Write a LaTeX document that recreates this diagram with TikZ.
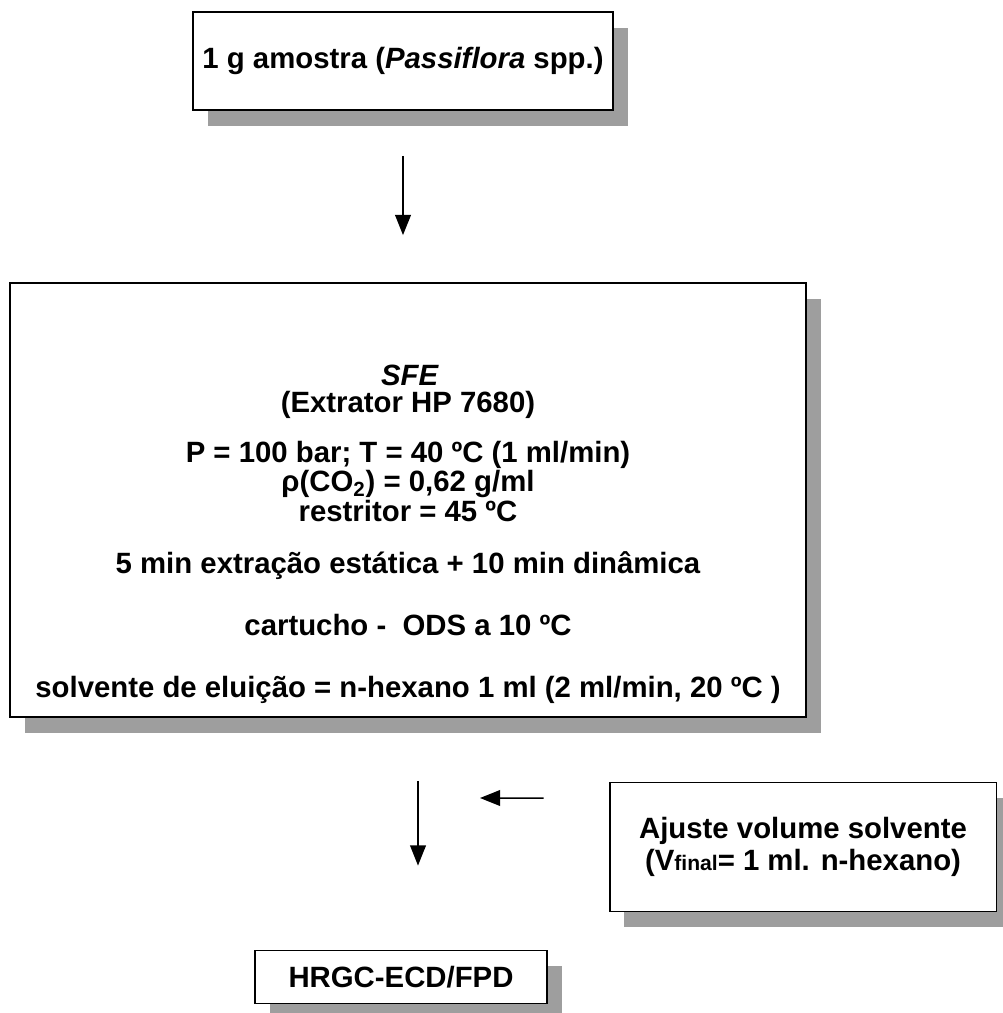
\documentclass[tikz,border=0pt]{standalone}
\usepackage{fontspec}
\setmainfont{Liberation Sans}
\usetikzlibrary{arrows.meta,positioning,shadows}
\tikzset{>={Triangle[width=9pt,length=11.5pt]}}
\tikzset{stepbox/.style={draw, line width=1.1pt, fill=white,
    general shadow={fill=black!38, shadow xshift=8.5pt, shadow yshift=-9pt}}}
\tikzset{txt/.style={font=\bfseries\fontsize{16.7}{18}\selectfont, inner sep=0pt}}
\tikzset{flow/.style={->, line width=0.85pt}}

\begin{document}
\begin{tikzpicture}[x=0.02cm,y=-0.02cm,every node/.style={txt}]
      \useasboundingbox (0,0) rectangle (1002,1013);
      \node[stepbox, minimum width=8.4cm, minimum height=1.96cm] (amostra) at (403,61) {1 g amostra (\textit{Passiflora} spp.)};
      \node[stepbox, minimum width=15.92cm, minimum height=8.68cm] (sfe) at (408,500) {};
      \node (sfe-nome) at (410,375) {\textit{SFE}};
      \node (sfe-hp) at (408,405) {(Extrator HP 7680)};
      \node (sfe-p) at (408,455) {P = 100 bar; T = 40 ºC (1 ml/min)};
      \node (sfe-rho) at (408,484) {ρ(CO\textsubscript{2}) = 0,62 g/ml};
      \node (sfe-rest) at (408,511) {restritor = 45 ºC};
      \node (sfe-tempo) at (408,566) {5 min extração estática + 10 min dinâmica};
      \node (sfe-cart) at (408,625) {cartucho -\ \ ODS a 10 ºC};
      \node (sfe-solv) at (408,690) {solvente de eluição = n-hexano 1 ml (2 ml/min, 20 ºC )};
      \node[stepbox, align=center, minimum width=7.74cm, minimum height=2.58cm] (ajuste) at (803,847)
            {Ajuste volume solvente\\(V{\fontsize{12}{14}\selectfont final}= 1 ml. n-hexano)};
      \node[stepbox, minimum width=5.84cm, minimum height=1.06cm] (hrgc) at (401,977) {HRGC-ECD/FPD};
      \coordinate (ajuste-in) at (480,798);
      \draw[flow, shorten <=0.9cm, shorten >=0.94cm] (amostra.south) -- (amostra.south |- sfe.north);
      \draw[flow, shorten <=1.26cm, shorten >=1.68cm] ([xshift=0.2cm]sfe.south) -- ([xshift=0.2cm]sfe.south |- hrgc.north);
      \draw[flow, shorten <=1.3cm] ([yshift=0.98cm]ajuste.west) -- (ajuste-in);
    \end{tikzpicture}
\end{document}
